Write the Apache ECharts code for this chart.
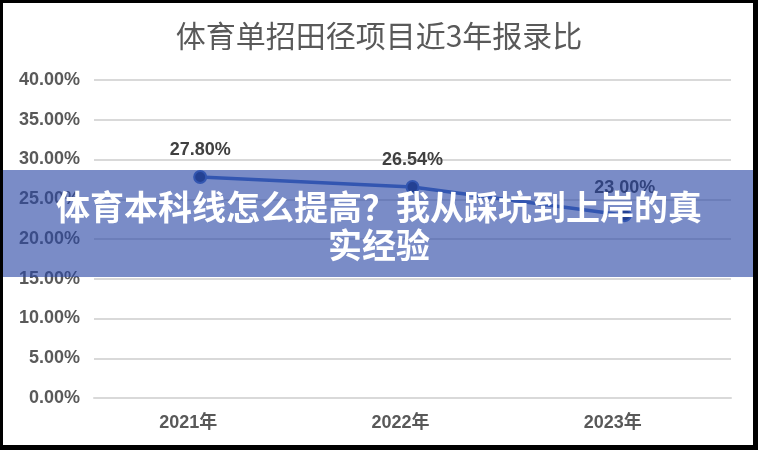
<!DOCTYPE html>
<html><head><meta charset="utf-8">
<script src="https://cdn.jsdelivr.net/npm/echarts@6/dist/echarts.min.js"></script>
<style>html,body{margin:0;padding:0;background:#fff}#c{width:758px;height:450px}</style>
</head><body><div id="c"></div>
<script>
const title = '体育单招田径项目近3年报录比';
const categories = ['2021年', '2022年', '2023年'];
const values = [27.80, 26.54, 23.00];
const bannerLines = ['体育本科线怎么提高？我从踩坑到上岸的真', '实经验'];

const chart = echarts.init(document.getElementById('c'));
chart.setOption({
  backgroundColor: '#fff',
  animation: false,
  title: {
    text: title, left: 'center', top: 16,
    textStyle: { fontFamily: 'Noto Sans CJK SC', fontWeight: 'normal', fontSize: 30, color: '#595959' }
  },
  grid: { left: 94, right: 27, top: 80, bottom: 52 },
  xAxis: {
    type: 'category', data: categories,
    axisLine: { lineStyle: { color: '#d9d9d9', width: 2 } },
    axisTick: { show: false },
    axisLabel: { color: '#595959', fontSize: 18, fontFamily: 'Liberation Sans, Noto Sans CJK SC', fontWeight: 'bold',
      margin: 16, padding: [0, 24, 0, 0] }
  },
  yAxis: {
    type: 'value', min: 0, max: 40, interval: 5,
    axisLine: { show: false }, axisTick: { show: false },
    splitLine: { lineStyle: { color: '#d9d9d9', width: 2 } },
    axisLabel: { color: '#595959', fontSize: 18, fontFamily: 'Liberation Sans', fontWeight: 'bold', margin: 14,
      formatter: v => v.toFixed(2) + '%' }
  },
  series: [{
    type: 'line', data: values,
    lineStyle: { color: '#4472c4', width: 3.5 },
    symbol: 'circle', symbolSize: 12,
    itemStyle: { color: '#1f3a78', borderColor: '#4472c4', borderWidth: 2 },
    label: { show: true, position: 'top', distance: 11, color: '#404040', fontSize: 18, fontWeight: 'bold',
      fontFamily: 'Liberation Sans', formatter: p => p.value.toFixed(2) + '%' }
  }],
  graphic: [
    { type: 'rect', left: 0, top: 170, shape: { width: 758, height: 107 },
      style: { fill: 'rgba(40,70,165,0.62)' }, z: 100 },
    { type: 'text', left: 'center', top: 188, z: 101,
      style: { text: bannerLines.join('\n'), fill: '#fff', fontSize: 34, fontWeight: 'bold',
        fontFamily: 'Noto Sans CJK SC', textAlign: 'center', lineHeight: 38 } },
    { type: 'rect', left: 0, top: 0, shape: { width: 758, height: 3 }, style: { fill: '#000' }, z: 102 },
    { type: 'rect', left: 0, top: 0, shape: { width: 3, height: 450 }, style: { fill: '#000' }, z: 102 },
    { type: 'rect', left: 753, top: 0, shape: { width: 5, height: 450 }, style: { fill: '#000' }, z: 102 },
    { type: 'rect', left: 0, top: 445, shape: { width: 758, height: 5 }, style: { fill: '#000' }, z: 102 }
  ]
});
</script></body></html>
